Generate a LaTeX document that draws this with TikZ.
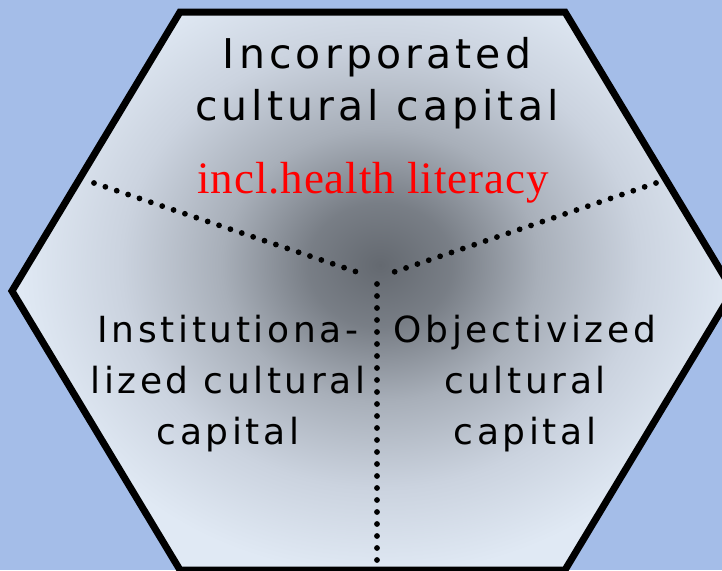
\documentclass[tikz,border=0pt]{standalone}
\usepackage{fontspec}
\newfontfamily\capfont[LetterSpace=10]{DejaVu Sans}
\newfontfamily\litfont[LetterSpace=2]{Liberation Serif}
\definecolor{bgblue}{RGB}{164,189,232}
\definecolor{hexlight}{RGB}{224,233,244}
\definecolor{hexpale}{RGB}{203,211,223}
\definecolor{hexmid}{RGB}{168,175,185}
\definecolor{hexdark}{RGB}{100,105,112}
\pgfdeclareradialshading{hexglow}{\pgfpoint{0bp}{0bp}}{color(0bp)=(hexdark); color(5bp)=(hexdark!70!hexmid); color(11bp)=(hexmid); color(18bp)=(hexpale); color(25bp)=(hexlight); color(50bp)=(hexlight)}
\tikzset{
  toplabel/.style={font=\capfont\fontsize{41}{52}\selectfont, align=center, inner sep=0pt},
  sidelabel/.style={font=\capfont\fontsize{36}{51}\selectfont, align=center, inner sep=0pt},
  extra/.style={font=\litfont\fontsize{45}{50}\selectfont, text=red, inner sep=0pt},
  divider/.style={line width=5.8pt, line cap=round, dash pattern=on 0pt off 12pt}
}
\begin{document}
\begin{tikzpicture}[x=1pt,y=-1pt]
      \useasboundingbox (0,0) rectangle (722,570);
      \fill[bgblue] (0,0) rectangle (722,570);
      \fill[hexlight] (180,12) -- (565,12) -- (733,291) -- (565,570) -- (180,570) -- (12,291) -- cycle;
      \begin{scope}
        \clip (180,12) -- (565,12) -- (733,291) -- (565,570) -- (180,570) -- (12,291) -- cycle;
        \shade[shading=hexglow] (380,265) ellipse (360 and 310);
      \end{scope}
      \draw[line width=7pt, line join=miter]
        (180,12) -- (565,12) -- (733,291) -- (565,570) -- (180,570) -- (12,291) -- cycle;
      \coordinate (lt) at (94,183);
      \coordinate (hubl) at (357,272);
      \coordinate (rt) at (656,183);
      \coordinate (hubr) at (394,272);
      \coordinate (hubv) at (377,284);
      \coordinate (vb) at (377,560);
      \draw[divider] (lt) -- (hubl);
      \draw[divider] (rt) -- (hubr);
      \draw[divider] (hubv) -- (vb);
      \node[toplabel, anchor=base] (incorp) at (377,120) {Incorporated\\cultural capital};
      \node[extra, anchor=base] (health) at (373,193) {incl.health literacy};
      \node[sidelabel, anchor=base] (instit) at (228,444) {Institutiona-\\lized cultural\\capital};
      \node[sidelabel, anchor=base] (object) at (525,444) {Objectivized\\cultural\\capital};
\end{tikzpicture}
\end{document}
